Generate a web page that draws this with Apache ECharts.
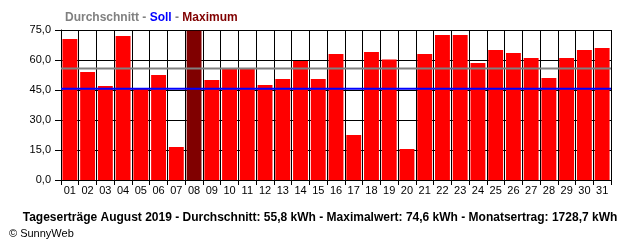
<!DOCTYPE html>
<html><head><meta charset="utf-8">
<script src="https://cdn.jsdelivr.net/npm/echarts@6/dist/echarts.min.js"></script>
<style>html,body{margin:0;padding:0;background:#fff}#c{width:640px;height:240px}</style>
</head><body><div id="c"></div>
<script>
var days = ['01','02','03','04','05','06','07','08','09','10','11','12','13','14','15','16','17','18','19','20','21','22','23','24','25','26','27','28','29','30','31'];
var yields = [70.5,54.0,47.0,72.0,46.0,52.5,16.5,74.6,50.0,55.8,55.8,47.5,50.5,59.5,50.5,63.0,22.5,64.0,60.2,15.5,63.0,72.5,72.5,58.5,65.0,63.5,61.0,51.0,61.0,65.0,66.0];
var averageValue = 55.8;
var targetValue = 45.6;
var maxIndex = 7;
var yTicks = [0,15,30,45,60,75];
var bottomText = 'Tageserträge August 2019 - Durchschnitt: 55,8 kWh - Maximalwert: 74,6 kWh - Monatsertrag: 1728,7 kWh';

var FONT = 'Liberation Sans';
var chart = echarts.init(document.getElementById('c'), null, {renderer:'canvas'});
var barData = yields.map(function(v,i){
  return i===maxIndex ? {value:v,itemStyle:{color:'#800000'}} : v;
});
var nDays = days.length;
function refLine(name, value, color, width){
  return {
    name:name, type:'line', xAxisIndex:1, yAxisIndex:0, z:10,
    data:[[0,value],[nDays,value]],
    symbol:'none', silent:true,
    lineStyle:{color:color,width:width,type:'solid',opacity:1}
  };
}
chart.setOption({
  animation:false,
  textStyle:{fontFamily:FONT},
  title:[{
    text:'{g|Durchschnitt - }{b|Soll}{g| - }{r|Maximum}',
    left:60, top:7,
    textStyle:{rich:{
      g:{color:'#808080',fontWeight:'bold',fontSize:12,fontFamily:FONT},
      b:{color:'#0000ff',fontWeight:'bold',fontSize:12,fontFamily:FONT},
      r:{color:'#800000',fontWeight:'bold',fontSize:12,fontFamily:FONT}
    }}
  },{
    text:bottomText, left:'center', top:207,
    textStyle:{color:'#000',fontWeight:'bold',fontSize:12,fontFamily:FONT}
  },{
    text:'© SunnyWeb', left:4, top:223,
    textStyle:{color:'#000',fontWeight:'normal',fontSize:11,fontFamily:FONT}
  }],
  grid:{left:61,right:29,top:30,bottom:60,containLabel:false},
  xAxis:[{
    type:'category', data:days, boundaryGap:true,
    axisLine:{lineStyle:{color:'#000',width:1}},
    axisTick:{show:true,length:5,lineStyle:{color:'#000'}},
    axisLabel:{color:'#000',fontSize:11,margin:5,interval:0,fontFamily:FONT},
    splitLine:{show:true,interval:0,lineStyle:{color:'#000',width:1}}
  },{
    type:'value', min:0, max:nDays, show:false,
    splitLine:{show:false}
  }],
  yAxis:{
    type:'value', min:0, max:75, interval:15,
    axisLine:{show:true,lineStyle:{color:'#000'}},
    axisTick:{show:true,length:6,lineStyle:{color:'#000'}},
    axisLabel:{color:'#000',fontSize:11,margin:10,fontFamily:FONT,
      formatter:function(v){return v.toFixed(1).replace('.',',');}},
    splitLine:{show:true,lineStyle:{color:'#000',width:1}}
  },
  series:[{
    type:'bar', data:barData, barCategoryGap:'16%',
    itemStyle:{color:'#ff0000'}
  },
  refLine('Durchschnitt', averageValue, '#808080', 2),
  refLine('Soll', targetValue, '#0000ff', 2)
  ]
});
</script></body></html>
